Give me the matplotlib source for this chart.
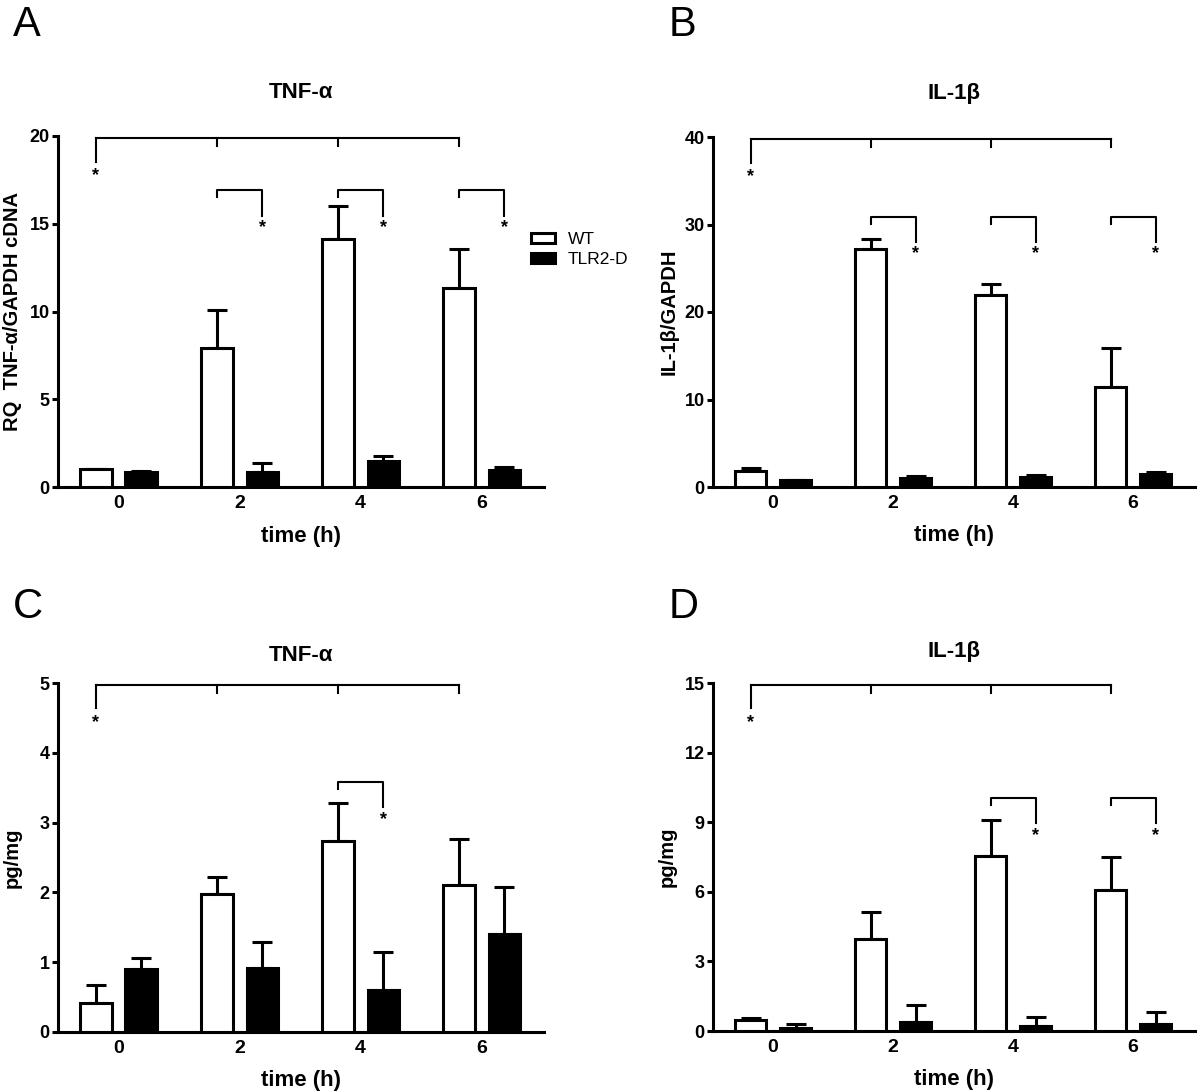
import matplotlib
matplotlib.use("Agg")
import matplotlib.pyplot as plt
from matplotlib.patches import Patch

plt.rcParams['font.family'] = ['Liberation Sans', 'DejaVu Sans']

# Data (mean, upper error = SEM)
times = [0, 2, 4, 6]
tick_labels = ["0", "2", "4", "6"]

a_wt = [1.0, 7.92, 14.15, 11.35]
a_wt_sem = [0.04, 2.14, 1.85, 2.19]
a_ko = [0.85, 0.88, 1.49, 0.95]
a_ko_sem = [0.05, 0.47, 0.28, 0.18]

b_wt = [1.83, 27.2, 22.0, 11.45]
b_wt_sem = [0.35, 1.1, 1.25, 4.4]
b_ko = [0.75, 1.05, 1.14, 1.45]
b_ko_sem = [0.1, 0.18, 0.2, 0.25]

c_wt = [0.42, 1.97, 2.73, 2.10]
c_wt_sem = [0.25, 0.25, 0.55, 0.67]
c_ko = [0.90, 0.91, 0.60, 1.40]
c_ko_sem = [0.16, 0.38, 0.55, 0.68]

d_wt = [0.46, 3.95, 7.56, 6.08]
d_wt_sem = [0.11, 1.17, 1.55, 1.4]
d_ko = [0.14, 0.39, 0.22, 0.29]
d_ko_sem = [0.18, 0.73, 0.4, 0.54]

# significance brackets: time points with a WT vs TLR2-D bracket, and its height
a_pairs, a_pair_y = [2, 4, 6], 16.9
b_pairs, b_pair_y = [2, 4, 6], 30.9
c_pairs, c_pair_y = [4], 3.58
d_pairs, d_pair_y = [4, 6], 10.04

W, H = 1200, 1091
fig = plt.figure(figsize=(W / 100, H / 100), dpi=100)

off = 0.375
bw = 0.52
LW = 2.2


def panel(rect, letter, title, title_y, ylabel, ylab_x, wt, wt_sem, ko, ko_sem,
          ymax, yticks, pairs, pair_y, letter_pos):
    ax = fig.add_axes(rect)
    x_wt = [t - off for t in times]
    x_ko = [t + off for t in times]
    ax.errorbar(x_wt, wt, yerr=[[0] * 4, wt_sem], fmt='none', ecolor='black',
                elinewidth=LW, capsize=7, capthick=LW, zorder=2)
    ax.errorbar(x_ko, ko, yerr=[[0] * 4, ko_sem], fmt='none', ecolor='black',
                elinewidth=LW, capsize=7, capthick=LW, zorder=2)
    ax.bar(x_wt, wt, width=bw, facecolor='white', edgecolor='black', linewidth=LW, zorder=3)
    ax.bar(x_ko, ko, width=bw, facecolor='black', edgecolor='black', linewidth=LW, zorder=3)

    ax.set_xlim(-1.0, 7.03)
    ax.set_ylim(0, ymax)
    ax.set_yticks(yticks)
    ax.set_xticks(times)
    ax.set_xticklabels(tick_labels)
    for s in ['top', 'right']:
        ax.spines[s].set_visible(False)
    for s in ['left', 'bottom']:
        ax.spines[s].set_linewidth(LW)
    ax.tick_params(axis='y', direction='out', length=4.5, width=LW, pad=1.5)
    ax.tick_params(axis='x', length=0, pad=6)
    for lab in ax.get_yticklabels():
        lab.set_fontweight('bold')
        lab.set_fontsize(13)
    for lab in ax.get_xticklabels():
        lab.set_fontweight('bold')
        lab.set_fontsize(14)

    ax.set_ylabel(ylabel, fontsize=14.5, fontweight='bold')
    ax.yaxis.set_label_coords(ylab_x, 0.5)
    ax.set_xlabel("time (h)", fontsize=16, fontweight='bold')
    ax.xaxis.set_label_coords(0.5, -0.11)
    ax.text(0.5, title_y, title, transform=ax.transAxes, ha='center', va='center',
            fontsize=16, fontweight='bold')

    # overall bracket across WT time points
    blw = 1.5
    top = ymax * 0.995
    ax.plot([x_wt[0], x_wt[-1]], [top, top], color='black', lw=blw, clip_on=False)
    ax.plot([x_wt[0], x_wt[0]], [top, top - 0.068 * ymax], color='black', lw=blw, clip_on=False)
    for xv in x_wt[1:]:
        ax.plot([xv, xv], [top, top - 0.023 * ymax], color='black', lw=blw, clip_on=False)
    ax.text(x_wt[0], top - 0.085 * ymax, "*", ha='center', va='top', fontsize=13,
            fontweight='bold')

    # WT vs TLR2-D brackets
    for t in pairs:
        x0, x1 = t - off, t + off
        ax.plot([x0, x0, x1, x1],
                [pair_y - 0.02 * ymax, pair_y, pair_y, pair_y - 0.072 * ymax],
                color='black', lw=blw)
        ax.text(x1, pair_y - 0.082 * ymax, "*", ha='center', va='top', fontsize=13,
                fontweight='bold')

    fig.text(letter_pos[0] / W, 1 - letter_pos[1] / H, letter, fontsize=30,
             ha='left', va='top')
    return ax


panel([58 / W, (H - 487) / H, 486 / W, 351 / H], "A", "TNF-\u03b1", 1.125,
      "RQ  TNF-\u03b1/GAPDH cDNA", -0.074, a_wt, a_wt_sem, a_ko, a_ko_sem,
      20, [0, 5, 10, 15, 20], a_pairs, a_pair_y, (13, 5))
panel([713 / W, (H - 487) / H, 482 / W, 350 / H], "B", "IL-1\u03b2", 1.125,
      "IL-1\u03b2/GAPDH", -0.072, b_wt, b_wt_sem, b_ko, b_ko_sem,
      40, [0, 10, 20, 30, 40], b_pairs, b_pair_y, (669, 5))
panel([58 / W, (H - 1032) / H, 486 / W, 349 / H], "C", "TNF-\u03b1", 1.08,
      "pg/mg", -0.074, c_wt, c_wt_sem, c_ko, c_ko_sem,
      5, [0, 1, 2, 3, 4, 5], c_pairs, c_pair_y, (13, 587))
panel([713 / W, (H - 1031) / H, 482 / W, 348 / H], "D", "IL-1\u03b2", 1.09,
      "pg/mg", -0.075, d_wt, d_wt_sem, d_ko, d_ko_sem,
      15, [0, 3, 6, 9, 12, 15], d_pairs, d_pair_y, (669, 587))

handles = [Patch(facecolor='white', edgecolor='black', linewidth=2.2, label='WT'),
           Patch(facecolor='black', edgecolor='black', linewidth=2.2, label='TLR2-D')]
fig.legend(handles=handles, loc='upper left', bbox_to_anchor=(531 / W, 1 - 232 / H),
           frameon=False, fontsize=12.5, handlelength=1.4, handleheight=0.5,
           handletextpad=0.7, labelspacing=0.3, borderaxespad=0, borderpad=0)

fig.savefig("out.png", dpi=100)
